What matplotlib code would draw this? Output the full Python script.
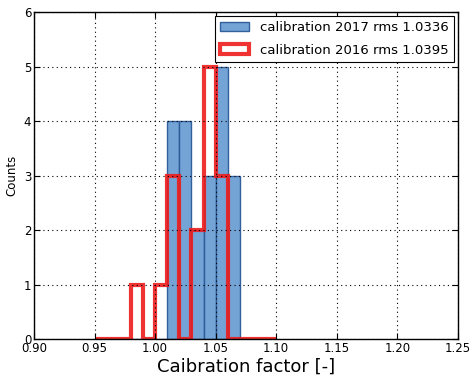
import numpy as np
import matplotlib
matplotlib.use("Agg")
import matplotlib.pyplot as plt

# bin edges shared by both histograms
bin_edges = [0.95, 0.96, 0.97, 0.98, 0.99, 1.00, 1.01, 1.02, 1.03,
             1.04, 1.05, 1.06, 1.07, 1.08, 1.09, 1.10]
counts_2017 = [0, 0, 0, 0, 0, 0, 4, 4, 2, 3, 5, 3, 0, 0, 0]
counts_2016 = [0, 0, 0, 1, 0, 1, 3, 0, 2, 5, 3, 0, 0, 0, 0]
label_2017 = "calibration 2017 rms 1.0336"
label_2016 = "calibration 2016 rms 1.0395"

centers = (np.array(bin_edges[:-1]) + np.array(bin_edges[1:])) / 2

plt.rcParams["axes.axisbelow"] = False
fig = plt.figure(figsize=(4.72, 3.76), dpi=100)
ax = fig.add_axes([0.072, 0.098, 0.898, 0.87])

ax.hist(centers, bins=bin_edges, weights=counts_2017, histtype="bar",
        color="#6c9fd3", edgecolor="#2b5a99", linewidth=1.0, alpha=0.95,
        label=label_2017)
ax.hist(centers, bins=bin_edges, weights=counts_2016, histtype="step",
        color="#ee1c1c", linewidth=3.0, alpha=0.9, label=label_2016)

ax.set_xlim(0.90, 1.25)
ax.set_ylim(0, 6)
ax.set_xticks(np.arange(0.90, 1.251, 0.05))
ax.set_xticklabels(["%.2f" % v for v in np.arange(0.90, 1.251, 0.05)])
ax.grid(True, color="black", linestyle=(0, (1, 3)), linewidth=0.8)
ax.tick_params(direction="in", top=True, right=True, labelsize=8.5,
               length=4, pad=2)
for sp in ax.spines.values():
    sp.set_linewidth(1.0)

ax.set_xlabel("Caibration factor [-]", fontsize=13, labelpad=2)
ax.set_ylabel("Counts", fontsize=8.5, labelpad=4)

leg = ax.legend(loc="upper right", fontsize=9.5, fancybox=False,
                framealpha=1, edgecolor="black", handlelength=2.2,
                labelspacing=0.7, borderaxespad=0.3)
leg.get_frame().set_linewidth(0.8)

fig.savefig("out.png", dpi=100)
